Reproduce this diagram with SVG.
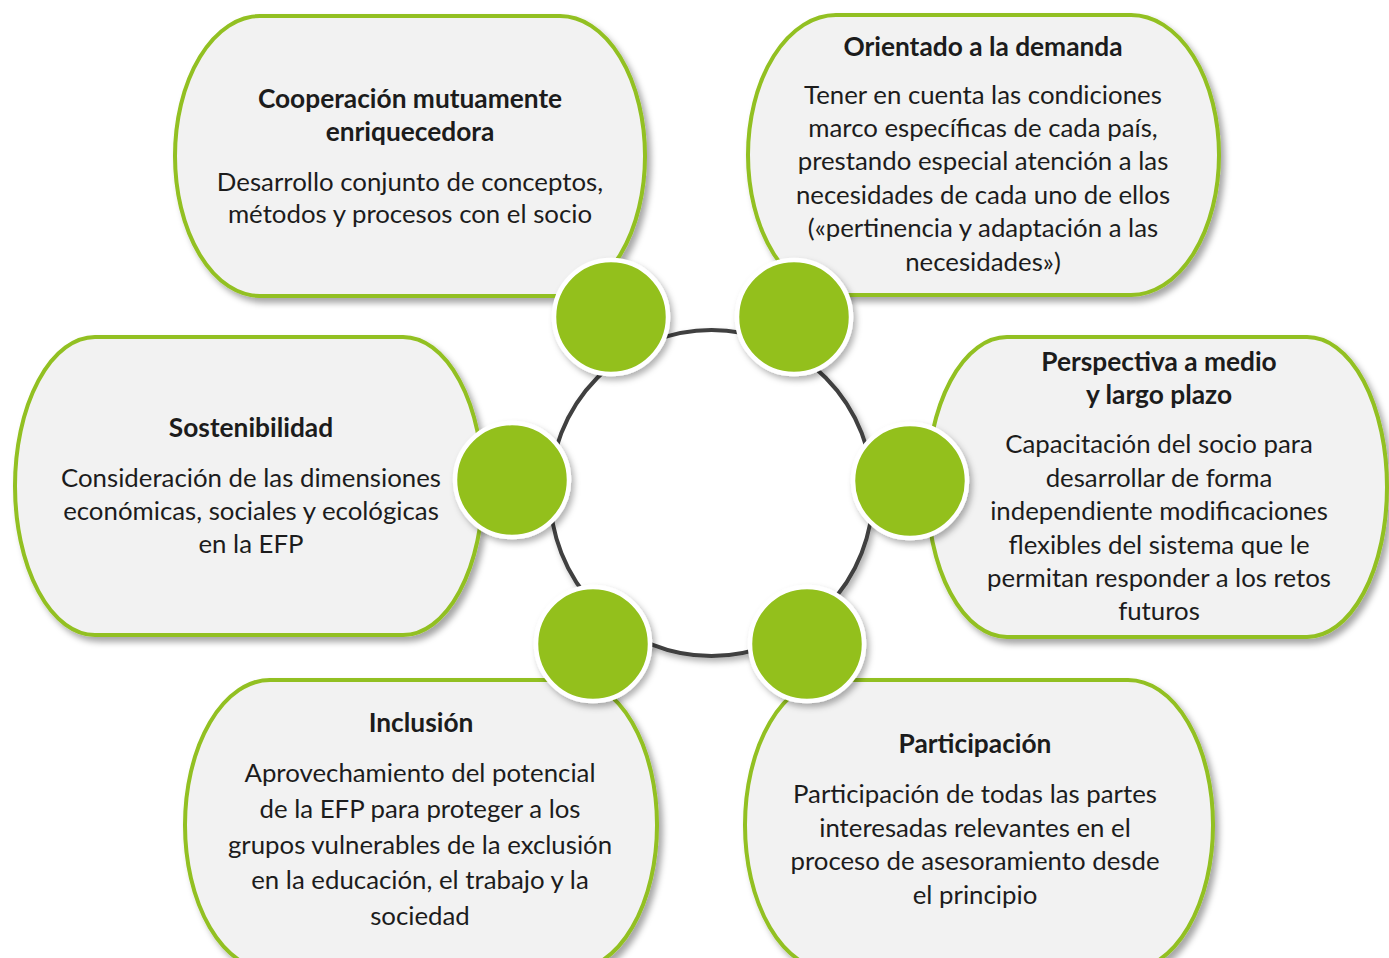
<svg xmlns="http://www.w3.org/2000/svg" width="1389" height="958" viewBox="0 0 1389 958">
<defs>
<filter id="sh" x="-10%" y="-10%" width="125%" height="125%">
<feDropShadow dx="4" dy="5" stdDeviation="3" flood-color="#000" flood-opacity="0.35"/>
</filter>
<filter id="csh" x="-20%" y="-20%" width="145%" height="145%">
<feDropShadow dx="3" dy="4" stdDeviation="3" flood-color="#000" flood-opacity="0.3"/>
</filter>
<style>
.box{fill:#f2f2f2;stroke:#92c020;stroke-width:4;filter:url(#sh)}
.dot{fill:#93c01f;stroke:#ffffff;stroke-width:4.5;filter:url(#csh)}
.ring{fill:#ffffff;stroke:#3f3f3f;stroke-width:4;filter:url(#csh)}
text{font-family:Lato,"Open Sans","Liberation Sans",sans-serif;font-size:25.8px;fill:#1c1c1c;text-anchor:middle}
.t{font-weight:bold;font-size:26.3px}
</style>
</defs>
<rect width="1389" height="958" fill="#ffffff"/>
<g id="box-cooperacion">
<rect class="box" x="175" y="16" width="470" height="280" rx="85" ry="140"/>
<text class="t" x="410" y="108">Cooperación mutuamente</text>
<text class="t" x="410" y="141">enriquecedora</text>
<text x="410" y="191">Desarrollo conjunto de conceptos,</text>
<text x="410" y="223">métodos y procesos con el socio</text>
</g>
<g id="box-orientado">
<rect class="box" x="748" y="15" width="471" height="280" rx="88" ry="140"/>
<text class="t" x="983" y="56">Orientado a la demanda</text>
<text x="983" y="104">Tener en cuenta las condiciones</text>
<text x="983" y="137">marco específicas de cada país,</text>
<text x="983" y="170">prestando especial atención a las</text>
<text x="983" y="204">necesidades de cada uno de ellos</text>
<text x="983" y="237">(«pertinencia y adaptación a las</text>
<text x="983" y="271">necesidades»)</text>
</g>
<g id="box-sostenibilidad">
<rect class="box" x="15" y="337" width="468" height="298" rx="80" ry="149"/>
<text class="t" x="251" y="437">Sostenibilidad</text>
<text x="251" y="487">Consideración de las dimensiones</text>
<text x="251" y="520">económicas, sociales y ecológicas</text>
<text x="251" y="553">en la EFP</text>
</g>
<g id="box-perspectiva">
<rect class="box" x="927" y="337" width="460" height="300" rx="80" ry="150"/>
<text class="t" x="1159" y="371">Perspectiva a medio</text>
<text class="t" x="1159" y="404">y largo plazo</text>
<text x="1159" y="453">Capacitación del socio para</text>
<text x="1159" y="487">desarrollar de forma</text>
<text x="1159" y="520">independiente modificaciones</text>
<text x="1159" y="554">flexibles del sistema que le</text>
<text x="1159" y="587">permitan responder a los retos</text>
<text x="1159" y="620">futuros</text>
</g>
<g id="box-inclusion">
<rect class="box" x="185" y="680" width="472" height="290" rx="85" ry="145"/>
<text class="t" x="421" y="732">Inclusión</text>
<text x="420" y="782">Aprovechamiento del potencial</text>
<text x="420" y="818">de la EFP para proteger a los</text>
<text x="420" y="854">grupos vulnerables de la exclusión</text>
<text x="420" y="889">en la educación, el trabajo y la</text>
<text x="420" y="925">sociedad</text>
</g>
<g id="box-participacion">
<rect class="box" x="745" y="680" width="468" height="290" rx="85" ry="145"/>
<text class="t" x="975" y="753">Participación</text>
<text x="975" y="803">Participación de todas las partes</text>
<text x="975" y="837">interesadas relevantes en el</text>
<text x="975" y="870">proceso de asesoramiento desde</text>
<text x="975" y="904">el principio</text>
</g>
<g id="connectors">
<ellipse class="ring" cx="711.5" cy="493" rx="161.5" ry="163"/>
</g>
<g id="dot-1"><circle class="dot" cx="611" cy="317" r="57"/></g>
<g id="dot-2"><circle class="dot" cx="794" cy="317" r="57"/></g>
<g id="dot-3"><circle class="dot" cx="512" cy="480" r="57"/></g>
<g id="dot-4"><circle class="dot" cx="910" cy="481" r="57"/></g>
<g id="dot-5"><circle class="dot" cx="593" cy="644" r="57"/></g>
<g id="dot-6"><circle class="dot" cx="807" cy="644" r="57"/></g>
</svg>
